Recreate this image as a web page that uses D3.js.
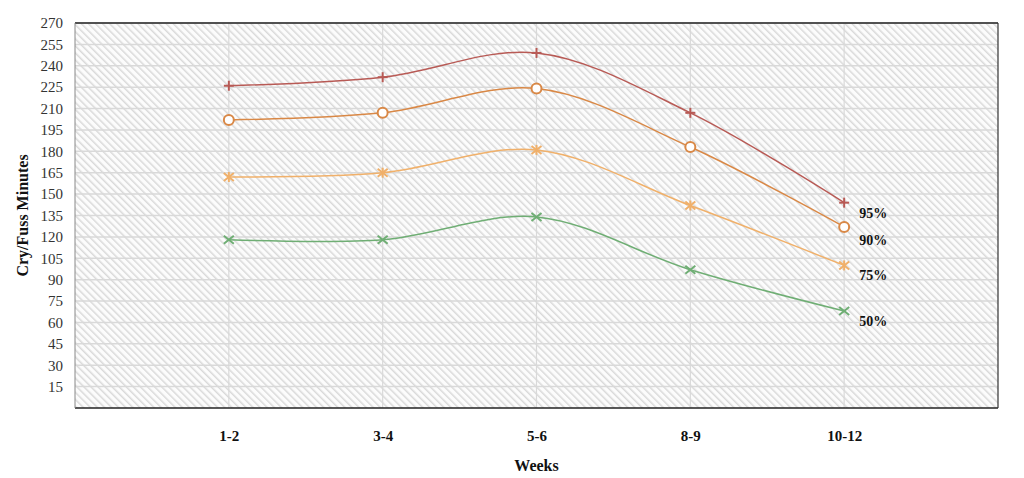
<!DOCTYPE html>
<html><head><meta charset="utf-8">
<script src="https://cdn.jsdelivr.net/npm/d3@7"></script>
<style>body{margin:0;background:#fff}</style>
</head><body>
<svg id="c" width="1024" height="478"></svg>
<script>
const categories = ["1-2","3-4","5-6","8-9","10-12"];
const seriesNames = ["95%","90%","75%","50%"];
const p95 = [226, 232, 249, 207, 144];
const p90 = [202, 207, 224, 183, 127];
const p75 = [162, 165, 181, 142, 100];
const p50 = [118, 118, 134, 97, 68];
const yTicks = [15,30,45,60,75,90,105,120,135,150,165,180,195,210,225,240,255,270];

const series = [
  {name:"95%", values:p95, color:"#b85a55", marker:"plus", labelDy:10},
  {name:"90%", values:p90, color:"#d98846", marker:"circle", labelDy:13},
  {name:"75%", values:p75, color:"#f0b06a", marker:"star", labelDy:10},
  {name:"50%", values:p50, color:"#6fae74", marker:"cross", labelDy:10}
];

const svg = d3.select("#c");
const L=75, R=998, T=23, B=408;
const x = d3.scalePoint().domain(categories).range([L,R]).padding(1);
const y = d3.scaleLinear().domain([0,270]).range([B,T]);

const defs = svg.append("defs");
const pat = defs.append("pattern").attr("id","hatch").attr("patternUnits","userSpaceOnUse")
  .attr("width",5).attr("height",5).attr("patternTransform","rotate(-45)");
pat.append("rect").attr("width",5).attr("height",5).attr("fill","#fcfcfc");
pat.append("rect").attr("width",1.5).attr("height",5).attr("fill","#d9d9d9");

svg.append("rect").attr("x",L).attr("y",T).attr("width",R-L).attr("height",B-T).attr("fill","url(#hatch)");

// grid
svg.append("g").selectAll("line").data(yTicks).join("line")
  .attr("x1",L).attr("x2",R).attr("y1",d=>y(d)).attr("y2",d=>y(d))
  .attr("stroke","#d9d9d9").attr("stroke-width",1.5);
svg.append("g").selectAll("line").data(categories).join("line")
  .attr("x1",d=>x(d)).attr("x2",d=>x(d)).attr("y1",T).attr("y2",B)
  .attr("stroke","#d9d9d9").attr("stroke-width",1.2);

// border
svg.append("line").attr("x1",L).attr("x2",R).attr("y1",T).attr("y2",T).attr("stroke","#222").attr("stroke-width",1.5);
svg.append("line").attr("x1",L).attr("x2",R).attr("y1",B).attr("y2",B).attr("stroke","#222").attr("stroke-width",1.5);
svg.append("line").attr("x1",L).attr("x2",L).attr("y1",T).attr("y2",B).attr("stroke","#888").attr("stroke-width",1);
svg.append("line").attr("x1",R).attr("x2",R).attr("y1",T).attr("y2",B).attr("stroke","#333").attr("stroke-width",1.2);

// y axis
const yAxis = d3.axisLeft(y).tickValues(yTicks).tickSize(0).tickPadding(12);
const ga = svg.append("g").attr("transform",`translate(${L},0)`).call(yAxis);
ga.select(".domain").remove();
ga.selectAll("text").attr("font-family","'Liberation Serif', serif").attr("font-size",15).attr("fill","#333");

// x axis
const xAxis = d3.axisBottom(x).tickSize(0).tickPadding(22);
const gx = svg.append("g").attr("transform",`translate(0,${B})`).call(xAxis);
gx.select(".domain").remove();
gx.selectAll("text").attr("font-family","'Liberation Serif', serif").attr("font-size",15).attr("font-weight","bold").attr("fill","#111");

svg.append("text").attr("x",(L+R)/2).attr("y",471).attr("text-anchor","middle")
  .attr("font-family","'Liberation Serif', serif").attr("font-size",16).attr("font-weight","bold").attr("fill","#111").text("Weeks");
svg.append("text").attr("transform",`translate(28,${(T+B)/2}) rotate(-90)`).attr("text-anchor","middle")
  .attr("font-family","'Liberation Serif', serif").attr("font-size",16).attr("font-weight","bold").attr("fill","#111").text("Cry/Fuss Minutes");

const line = d3.line().x((d,i)=>x(categories[i])).y(d=>y(d)).curve(d3.curveCatmullRom.alpha(0.5));

series.forEach(s=>{
  svg.append("path").attr("d",line(s.values)).attr("fill","none").attr("stroke",s.color).attr("stroke-width",1.5);
  const g = svg.append("g");
  s.values.forEach((v,i)=>{
    const cx=x(categories[i]), cy=y(v), r=5;
    if(s.marker==="circle"){
      g.append("circle").attr("cx",cx).attr("cy",cy).attr("r",5).attr("fill","#fff").attr("stroke",s.color).attr("stroke-width",2);
    } else {
      const segs=[];
      if(s.marker==="plus"||s.marker==="star"){ segs.push([0,-r,0,r]); }
      if(s.marker==="plus"){ segs.push([-r,0,r,0]); }
      if(s.marker==="cross"||s.marker==="star"){ segs.push([-r,-r*0.8,r,r*0.8],[-r,r*0.8,r,-r*0.8]); }
      segs.forEach(q=>g.append("line").attr("x1",cx+q[0]).attr("y1",cy+q[1]).attr("x2",cx+q[2]).attr("y2",cy+q[3]).attr("stroke",s.color).attr("stroke-width",2));
    }
  });
  const last = s.values[s.values.length-1];
  svg.append("text").attr("x",x(categories[categories.length-1])+15).attr("y",y(last)+s.labelDy+5)
    .attr("font-family","'Liberation Serif', serif").attr("font-size",14).attr("font-weight","bold").attr("fill","#111").text(s.name);
});
</script>
</body></html>
